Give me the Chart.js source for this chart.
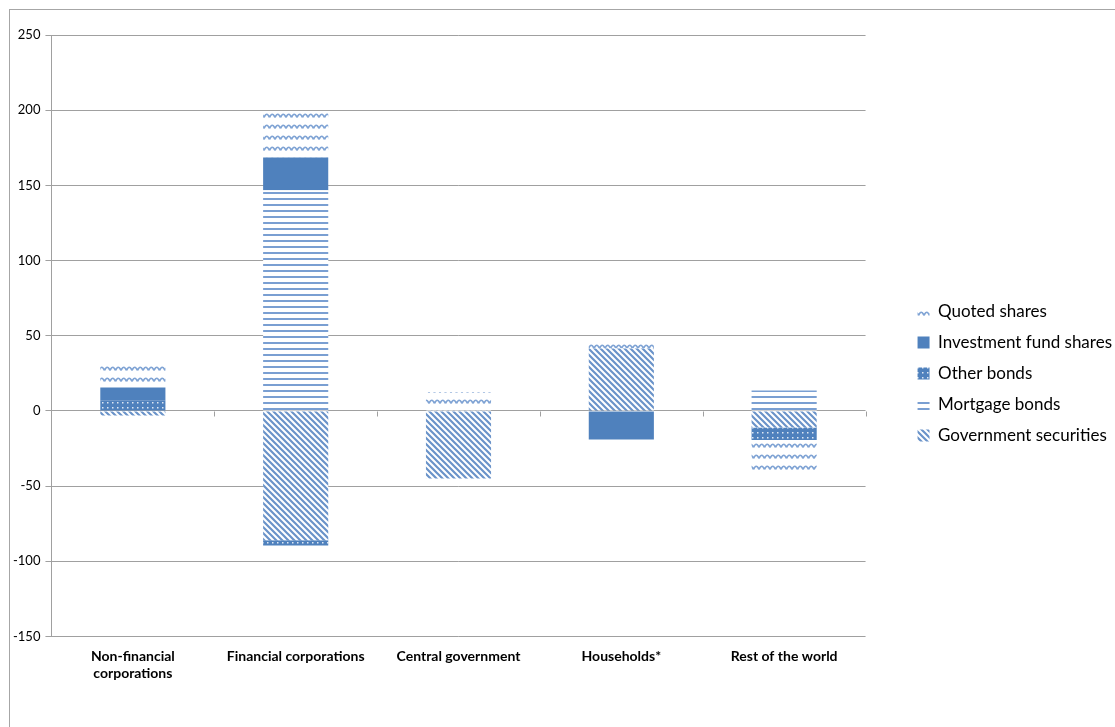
<!DOCTYPE html>
<html>
<head>
<meta charset="utf-8">
<script src="https://cdn.jsdelivr.net/npm/chart.js@4"></script>
<style>
  html, body { margin: 0; padding: 0; background: #fff; overflow: hidden; }
  canvas { display: block; }
</style>
</head>
<body>
<canvas id="chart" width="1115" height="727"></canvas>
<script>
const categories = [["Non-financial", "corporations"], "Financial corporations", "Central government", "Households*", "Rest of the world"];
const govSecurities = [-3, -86, -45, 41.5, -11];
const mortgageBonds = [0, 146.7, 0, 0, 13.6];
const otherBonds = [7, -3.5, 0, 0, -8.4];
const fundShares = [8.6, 21.8, 0, -19, 0];
const quotedShares = [18, 30.3, 12.5, 6.7, -21.4];
const yTicks = [250, 200, 150, 100, 50, 0, -50, -100, -150];

const BLUE = "#4F81BD";

function makePattern(w, h, draw) {
  const c = document.createElement("canvas");
  c.width = w; c.height = h;
  const g = c.getContext("2d");
  g.fillStyle = "#fff";
  g.fillRect(0, 0, w, h);
  draw(g);
  return document.getElementById("chart").getContext("2d").createPattern(c, "repeat");
}

// wave
const wavePat = makePattern(11, 11, g => {
  g.strokeStyle = "#7FA3D4";
  g.lineWidth = 1.7;
  g.beginPath();
  g.moveTo(0, 7.5);
  g.quadraticCurveTo(2.75, 1, 5.5, 7.5);
  g.moveTo(5.5, 7.5);
  g.quadraticCurveTo(8.25, 1, 11, 7.5);
  g.stroke();
});
// wide downward diagonal
const diagPat = makePattern(6, 6, g => {
  g.strokeStyle = "#6A93C9";
  g.lineWidth = 2.2;
  g.beginPath();
  g.moveTo(-3, -3); g.lineTo(9, 9);
  g.moveTo(-9, -3); g.lineTo(3, 9);
  g.moveTo(3, -3); g.lineTo(15, 9);
  g.stroke();
});
// horizontal lines
const horizPat = makePattern(4, 6, g => {
  g.fillStyle = "#7A9FD2";
  g.fillRect(0, 0, 4, 2);
});
// dotted
const dotPat = makePattern(5, 5, g => {
  g.fillStyle = BLUE;
  g.fillRect(0, 0, 5, 5);
  g.fillStyle = "#dfe8f3";
  g.fillRect(2, 2, 1.5, 1.5);
});

const frame = {
  id: "frame",
  afterLayout(chart) {
    // legend sits a little away from the plot, like the original
    const lg = chart.legend;
    lg.left = chart.chartArea.right + 38;
    lg.right = chart.width;
    lg.width = lg.right - lg.left;
    lg.top += 13;
    lg.bottom += 13;
  },
  beforeDraw(chart) {
    const ctx = chart.ctx;
    ctx.save();
    ctx.strokeStyle = "#A6A6A6";
    ctx.lineWidth = 1;
    ctx.strokeRect(9.5, 9.5, 2000, 2000);
    ctx.restore();
  },
  afterDatasetsDraw(chart) {
    // category axis tick marks on the zero line
    const x = chart.scales.x, y = chart.scales.y;
    const y0 = Math.round(y.getPixelForValue(0)) + 0.5;
    const n = categories.length;
    const step = (x.right - x.left) / n;
    const ctx = chart.ctx;
    ctx.save();
    ctx.strokeStyle = "#A0A0A0";
    ctx.lineWidth = 1;
    ctx.beginPath();
    for (let i = 0; i <= n; i++) {
      const px = Math.round(x.left + i * step) + 0.5;
      ctx.moveTo(px, y0);
      ctx.lineTo(px, y0 + 5);
    }
    ctx.stroke();
    ctx.restore();
  }
};

new Chart(document.getElementById("chart"), {
  type: "bar",
  data: {
    labels: categories,
    datasets: [
      { label: "Government securities", data: govSecurities, backgroundColor: diagPat },
      { label: "Mortgage bonds", data: mortgageBonds, backgroundColor: horizPat },
      { label: "Other bonds", data: otherBonds, backgroundColor: dotPat },
      { label: "Investment fund shares", data: fundShares, backgroundColor: BLUE },
      { label: "Quoted shares", data: quotedShares, backgroundColor: wavePat }
    ]
  },
  options: {
    responsive: false,
    animation: false,
    datasets: { bar: { barPercentage: 1, categoryPercentage: 0.4, borderWidth: 0 } },
    layout: { padding: { left: 8, top: 35, right: 31, bottom: 41 } },
    plugins: {
      tooltip: { enabled: false },
      legend: {
        position: "right",
        reverse: true,
        labels: {
          boxWidth: 12,
          boxHeight: 12,
          padding: 14,
          color: "#000",
          font: { family: "Lato", size: 17 }
        }
      }
    },
    scales: {
      x: {
        stacked: true,
        grid: { display: false },
        border: { display: false },
        ticks: {
          color: "#000",
          maxRotation: 0,
          autoSkip: false,
          padding: 4,
          font: { family: "Lato", size: 14, weight: "bold" }
        }
      },
      y: {
        stacked: true,
        min: -150,
        max: 250,
        afterBuildTicks: axis => { axis.ticks = yTicks.map(v => ({ value: v })); },
        grid: { color: "#A0A0A0", tickLength: 6, drawTicks: true },
        border: { display: true, color: "#A0A0A0" },
        ticks: {
          color: "#000",
          padding: 5,
          font: { family: "Lato", size: 13 }
        }
      }
    }
  },
  plugins: [frame]
});
</script>
</body>
</html>
